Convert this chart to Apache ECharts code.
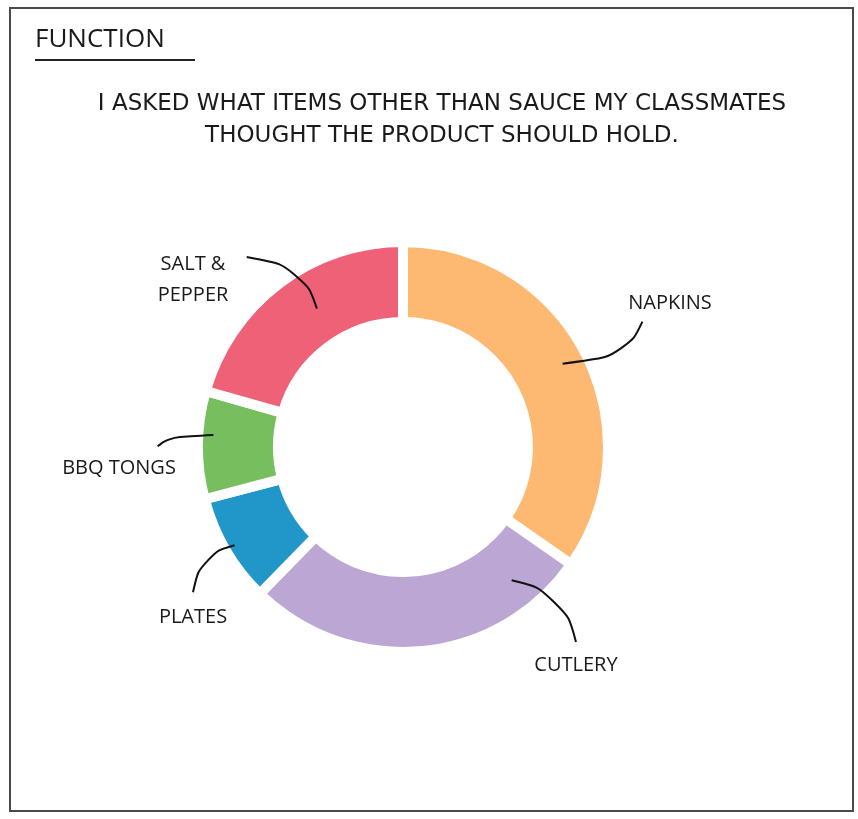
<!DOCTYPE html>
<html>
<head>
<meta charset="utf-8">
<script src="https://cdn.jsdelivr.net/npm/echarts@6/dist/echarts.min.js"></script>
<style>
  html, body { margin: 0; padding: 0; background: #fff; }
  #chart { width: 858px; height: 819px; }
</style>
</head>
<body>
<div id="chart"></div>
<script>
// answers from classmates (share of responses, %)
const items = ["NAPKINS", "CUTLERY", "PLATES", "BBQ TONGS", "SALT &\nPEPPER"];
const shares = [34.7, 27.6, 8.6, 8.5, 20.6];
const colors = ["#fdb872", "#bba6d4", "#2197c9", "#77bf5e", "#ee6177"];

const heading = "FUNCTION";
const question = "I ASKED WHAT ITEMS OTHER THAN SAUCE MY CLASSMATES\nTHOUGHT THE PRODUCT SHOULD HOLD.";

// label placement: centre of text, where the pointer leaves the text
// (fraction of the label box, first leg vertical or horizontal) and where
// it lands in the slice (fraction along the slice, radius)
const labelPos = [
  [670, 303],
  [576, 665],
  [193, 617],
  [119, 468],
  [193, 280],
];
const pointerFrom = [
  [0.17, 1.1, "v"],
  [0.5, -0.24, "v"],
  [0.5, -0.3, "v"],
  [0.84, -0.2, "v"],
  [1.26, 0.13, "h"],
];
const pointerTo = [
  [0.5, 180],
  [0.16, 172],
  [0.5, 195],
  [0.6, 190],
  [0.57, 163],
];

const center = [403, 447];
const font = "'Open Sans', sans-serif";

// angle (clockwise from 12 o'clock) of a point part way through slice i
function sliceAngle(i, frac) {
  const total = shares.reduce(function (a, b) { return a + b; }, 0);
  let before = 0;
  for (let k = 0; k < i; k++) before += shares[k];
  return ((before + shares[i] * frac) / total) * Math.PI * 2;
}

const chart = echarts.init(document.getElementById("chart"));

chart.setOption({
  animation: false,
  backgroundColor: "#fff",
  title: [
    {
      text: heading,
      left: 30,
      top: 22,
      textStyle: { fontFamily: font, fontSize: 26, fontWeight: "normal", color: "#1a1a1a" },
    },
    {
      text: question,
      left: 437,
      top: 83,
      textAlign: "center",
      textStyle: {
        fontFamily: "'DejaVu Sans', sans-serif",
        fontSize: 23,
        fontWeight: "normal",
        color: "#1a1a1a",
        lineHeight: 32,
        align: "center",
      },
    },
  ],
  graphic: [
    {
      type: "rect",
      shape: { x: 10, y: 8, width: 843, height: 803 },
      style: { fill: null, stroke: "#4a4a4a", lineWidth: 2 },
      silent: true,
    },
    {
      type: "line",
      shape: { x1: 35, y1: 60, x2: 195, y2: 60 },
      style: { stroke: "#222", lineWidth: 2 },
      silent: true,
    },
  ],
  series: [
    {
      // the coloured ring
      type: "pie",
      z: 2,
      center: center,
      radius: [125, 205],
      startAngle: 90,
      clockwise: true,
      silent: true,
      itemStyle: { borderColor: "#fff", borderWidth: 10 },
      label: { show: false },
      labelLine: { show: false },
      data: items.map(function (name, i) {
        return { name: name, value: shares[i], itemStyle: { color: colors[i] } };
      }),
    },
    {
      // same ring, transparent, drawn on top so the pointers sit over the slices
      type: "pie",
      z: 5,
      center: center,
      radius: [125, 205],
      startAngle: 90,
      clockwise: true,
      silent: true,
      itemStyle: { color: "rgba(0,0,0,0)", borderWidth: 0 },
      label: {
        show: true,
        position: "outside",
        fontFamily: font,
        fontSize: 20,
        color: "#1a1a1a",
        lineHeight: 31,
        align: "center",
        verticalAlign: "middle",
        formatter: "{b}",
      },
      labelLine: {
        show: true,
        smooth: 0.5,
        lineStyle: { color: "#111", width: 2 },
      },
      labelLayout: function (params) {
        const i = params.dataIndex;
        const p = labelPos[i];
        const w = params.labelRect.width;
        const h = params.labelRect.height;
        const from = [
          p[0] - w / 2 + pointerFrom[i][0] * w,
          p[1] - h / 2 + pointerFrom[i][1] * h,
        ];
        const a = sliceAngle(i, pointerTo[i][0]);
        const r = pointerTo[i][1];
        const to = [center[0] + r * Math.sin(a), center[1] - r * Math.cos(a)];
        const corner = pointerFrom[i][2] === "v"
          ? [from[0], to[1]]
          : [to[0], from[1]];
        // pull the bend toward the middle so the pointer is a soft arc
        const bend = [
          corner[0] * 0.6 + (to[0] + from[0]) * 0.2,
          corner[1] * 0.6 + (to[1] + from[1]) * 0.2,
        ];
        return {
          x: p[0],
          y: p[1],
          align: "center",
          verticalAlign: "middle",
          labelLinePoints: [to, bend, from],
        };
      },
      data: items.map(function (name, i) {
        return { name: name, value: shares[i] };
      }),
    },
  ],
});
</script>
</body>
</html>
